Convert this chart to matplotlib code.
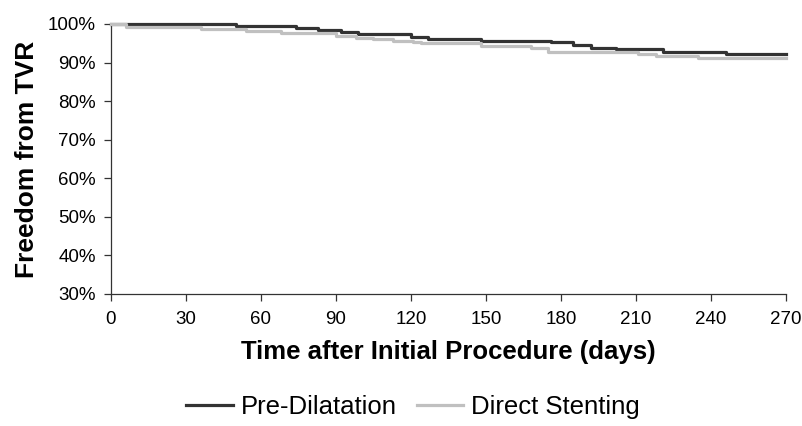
import matplotlib
matplotlib.use("Agg")
import matplotlib.pyplot as plt
from matplotlib.ticker import FuncFormatter

plt.rcParams['font.family'] = ['Liberation Sans', 'DejaVu Sans']

# Kaplan-Meier style step data (days, % free from TVR)
pre_days = [0, 50, 74, 83, 92, 99, 120, 127, 148, 176, 185, 192, 202, 221, 246, 270]
pre_vals = [100, 99.6, 99.0, 98.4, 97.8, 97.3, 96.7, 96.0, 95.6, 95.2, 94.6, 93.9,
            93.5, 92.8, 92.1, 92.1]

direct_days = [0, 6, 36, 54, 68, 90, 98, 105, 113, 121, 124, 148, 168, 175, 211,
               218, 235, 270]
direct_vals = [100, 99.3, 98.7, 98.2, 97.6, 96.9, 96.3, 96.0, 95.6, 95.2, 95.0,
               94.4, 93.7, 92.8, 92.2, 91.7, 91.1, 91.1]

x_ticks = list(range(0, 271, 30))
y_ticks = list(range(30, 101, 10))

fig = plt.figure(figsize=(8.02, 4.26), dpi=100)
ax = fig.add_axes([0.1384, 0.3099, 0.980 - 0.1384, 0.9437 - 0.3099])

ax.step(pre_days, pre_vals, where='post', color='#333333', lw=2.3,
        label='Pre-Dilatation', clip_on=False, zorder=3)
ax.step(direct_days, direct_vals, where='post', color='#c0c0c0', lw=2.3,
        label='Direct Stenting', clip_on=False, zorder=4)

ax.set_xlim(0, 270)
ax.set_ylim(30, 100)
ax.set_xticks(x_ticks)
ax.set_yticks(y_ticks)
ax.yaxis.set_major_formatter(FuncFormatter(lambda v, p: f'{int(v)}%'))

for s in ['top', 'right']:
    ax.spines[s].set_visible(False)
for s in ['left', 'bottom']:
    ax.spines[s].set_color('#333333')
    ax.spines[s].set_linewidth(0.9)
ax.tick_params(axis='both', colors='#333333', labelcolor='black', labelsize=13.5,
               length=5, width=0.9)
ax.tick_params(axis='y', pad=6)
ax.tick_params(axis='x', pad=7)

ax.set_xlabel('Time after Initial Procedure (days)', fontsize=18.5,
              fontweight='bold', labelpad=9)
ax.set_ylabel('Freedom from TVR', fontsize=19, fontweight='bold', labelpad=6)

leg = fig.legend(loc='center', bbox_to_anchor=(0.515, 0.045), ncol=2, frameon=False,
                 fontsize=18.5, handlelength=1.8, handletextpad=0.3, columnspacing=0.8)

fig.savefig('out.png', dpi=100)
